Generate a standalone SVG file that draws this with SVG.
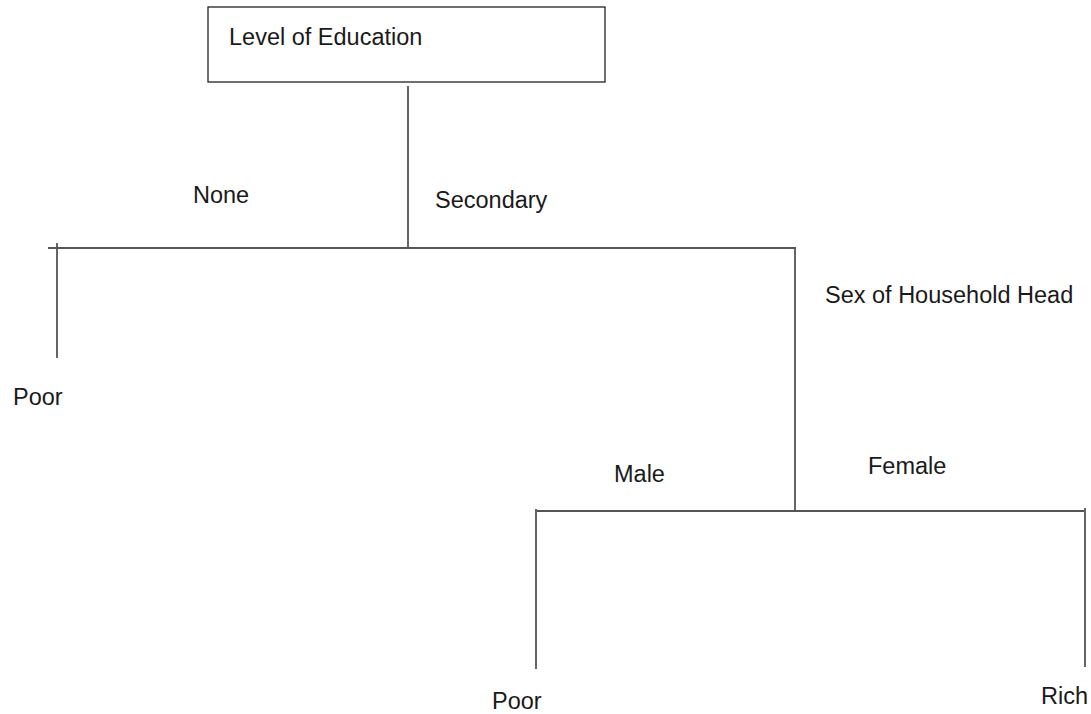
<svg xmlns="http://www.w3.org/2000/svg" width="1091" height="714" viewBox="0 0 1091 714">
<style>
.t{font-family:"Liberation Sans",Arial,sans-serif;font-size:23.5px;fill:#1a1a1a}
.c{stroke:#555;stroke-width:1.8;fill:none}
.b{stroke:#222;stroke-width:1.3;fill:#fff}
</style>
<rect width="1091" height="714" fill="#fff"/>
<g id="connectors">
<line class="c" x1="408" y1="86" x2="408" y2="247"/>
<line class="c" x1="48" y1="248" x2="796" y2="248"/>
<line class="c" x1="57" y1="243" x2="57" y2="358"/>
<line class="c" x1="795" y1="248" x2="795" y2="510"/>
<line class="c" x1="537" y1="511" x2="1084" y2="511"/>
<line class="c" x1="536" y1="509" x2="536" y2="669"/>
<line class="c" x1="1085" y1="508" x2="1085" y2="667"/>
</g>
<g id="node-education">
<rect class="b" x="208" y="7" width="397" height="75"/>
<text class="t" x="229" y="45">Level of Education</text>
</g>
<g id="label-none"><text class="t" x="193" y="203">None</text></g>
<g id="label-secondary"><text class="t" x="435" y="208">Secondary</text></g>
<g id="node-sex"><text class="t" x="825" y="303">Sex of Household Head</text></g>
<g id="leaf-poor-1"><text class="t" x="13" y="405">Poor</text></g>
<g id="label-male"><text class="t" x="614" y="482">Male</text></g>
<g id="label-female"><text class="t" x="868" y="474">Female</text></g>
<g id="leaf-poor-2"><text class="t" x="492" y="709">Poor</text></g>
<g id="leaf-rich"><text class="t" x="1041" y="704">Rich</text></g>
</svg>
